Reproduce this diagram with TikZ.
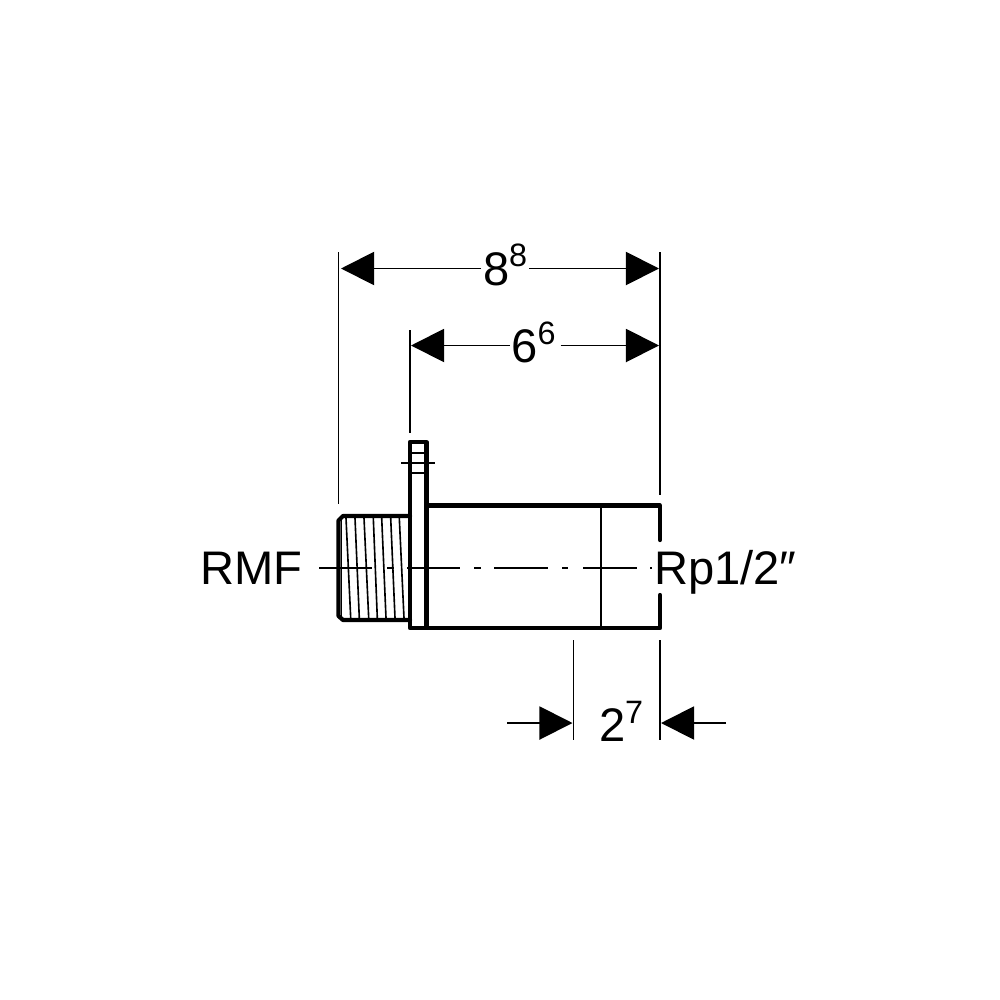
\documentclass[tikz,border=0pt]{standalone}
\usepackage{fontspec}
\setmainfont{Liberation Sans}
\usetikzlibrary{arrows.meta}
\newcommand{\bigfont}{\fontsize{13.4pt}{15pt}\selectfont}
\newcommand{\supfont}{\fontsize{9.2pt}{10pt}\selectfont}
\newcommand{\dimlabel}[2]{\bigfont #1\raisebox{1.8mm}{\supfont #2}}
\tikzset{
  x=0.01cm,y=-0.01cm,
  thick line/.style={line width=1.2pt,line cap=round,line join=round},
  thin line/.style={line width=0.46pt},
  dim line/.style={line width=0.55pt,-{Triangle[length=0.33cm,width=0.33cm,fill=black]}},
  label text/.style={inner sep=0pt,outer sep=0pt,font=\bigfont,anchor=base west},
  dim text/.style={inner sep=0pt,outer sep=0pt,anchor=base west},
}
\begin{document}
\begin{tikzpicture}
\useasboundingbox (0,0) rectangle (1000,1000);
% coordinates for dimension ends
\coordinate (a1) at (341,268.5);
\coordinate (a2) at (659,268.5);
\coordinate (b1) at (411,345.5);
\coordinate (b2) at (659,345.5);
\coordinate (c0) at (507,723);
\coordinate (c1) at (572.5,723);
\coordinate (c2) at (661,723);
\coordinate (c3) at (726,723);
% extension lines
\draw[thin line] (338.5,252) -- (338.5,504);
\draw[thin line] (660,252) -- (660,495);
\draw[thin line] (410,330) -- (410,433);
\draw[thin line] (573.5,640) -- (573.5,740);
\draw[thin line] (660,640) -- (660,740);
% thread
\foreach \t/\b in {346/350.7,355/359.3,364/368.7,373.3/377.3,381.7/386,390.7/395,399.3/404}
  \draw[thin line] (\t,518) -- (\b,618);
\draw[thin line] (341.5,518) -- (341.5,618);
% flange details
\draw[thin line] (410,453) -- (426,453);
\draw[thin line] (401,463) -- (435,463);
\draw[thin line] (410,473) -- (426,473);
% body section line
\draw[thin line] (601,505.5) -- (601,628);
% centre line
\draw[thin line] (319,568) -- (372,568);
\draw[thin line] (387,568) -- (394,568);
\draw[thin line] (407,568) -- (460,568);
\draw[thin line] (474,568) -- (481,568);
\draw[thin line] (494,568) -- (548,568);
\draw[thin line] (562,568) -- (568,568);
\draw[thin line] (583,568) -- (637,568);
\draw[thin line] (650,568) -- (652,568);
% outlines
\draw[thick line] (410,516) -- (343,516) -- (338.5,520.5) -- (338.5,616) -- (343,620) -- (410,620);
\draw[thick line] (426.5,628) -- (410,628) -- (410,442) -- (426.5,442) -- cycle;
\draw[thick line] (660,540) -- (660,505.5) -- (426.5,505.5);
\draw[thick line] (426.5,628) -- (660,628) -- (660,595);
% labels
\node[label text] (rmf) at (200.5,584.5) {RMF};
\node[label text] (rp) at (654,584.5) {Rp1/2″};
\node[dim text] (d88) at (483,285) {\dimlabel{8}{8}};
\node[dim text] (d66) at (511.5,362.5) {\dimlabel{6}{6}};
\node[dim text] (d27) at (599,741.5) {\dimlabel{2}{7}};
% dimension arrows
\draw[dim line] ([xshift=-0.02cm]d88.west |- a1) -- (a1);
\draw[dim line] ([xshift=0.02cm]d88.east |- a2) -- (a2);
\draw[dim line] ([xshift=-0.02cm]d66.west |- b1) -- (b1);
\draw[dim line] ([xshift=0.05cm]d66.east |- b2) -- (b2);
\draw[dim line] (c0) -- (c1);
\draw[dim line] (c3) -- (c2);
\end{tikzpicture}
\end{document}
